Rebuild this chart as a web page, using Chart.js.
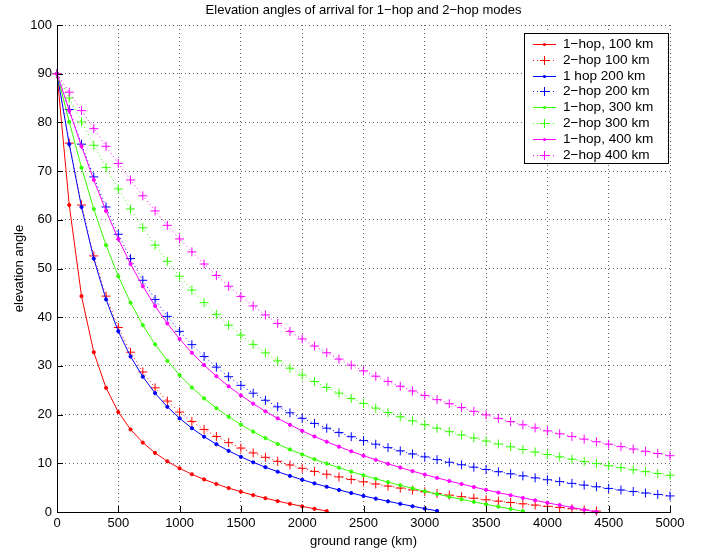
<!DOCTYPE html>
<html>
<head>
<meta charset="utf-8">
<title>Elevation angles of arrival</title>
<script src="https://cdn.jsdelivr.net/npm/chart.js@4.4.0/dist/chart.umd.min.js"></script>
<style>
    html, body { margin: 0; padding: 0; background: #fff; }
    #wrap { width: 704px; height: 549px; }
</style>
</head>
<body>
<div id="wrap"><canvas id="elevChart" width="704" height="549"></canvas></div>
<script>
const FONT = '"Liberation Sans", Arial, Helvetica, sans-serif';

// ground range in km, one sample every 100 km
const groundRange = [0, 100, 200, 300, 400, 500, 600, 700, 800, 900,
    1000, 1100, 1200, 1300, 1400, 1500, 1600, 1700, 1800, 1900,
    2000, 2100, 2200, 2300, 2400, 2500, 2600, 2700, 2800, 2900,
    3000, 3100, 3200, 3300, 3400, 3500, 3600, 3700, 3800, 3900,
    4000, 4100, 4200, 4300, 4400, 4500, 4600, 4700, 4800, 4900, 5000];

const xTicks = [0, 500, 1000, 1500, 2000, 2500, 3000, 3500, 4000, 4500, 5000];
const yTicks = [0, 10, 20, 30, 40, 50, 60, 70, 80, 90, 100];

const seriesLabels = ['1\u2212hop, 100 km', '2\u2212hop 100 km', '1 hop 200 km', '2\u2212hop 200 km',
    '1\u2212hop, 300 km', '2\u2212hop 300 km', '1\u2212hop, 400 km', '2\u2212hop 400 km'];
const seriesColors = ['#ff0000', '#ff0000', '#0000ff', '#0000ff', '#33ff00', '#33ff00', '#ff00ff', '#ff00ff'];

// elevation angle (deg)
const oneHop100 = [90, 63.03, 44.33, 32.81, 25.49, 20.52, 16.95, 14.25, 12.13, 10.41,
    8.97, 7.75, 6.69, 5.75, 4.91, 4.16, 3.46, 2.83, 2.23, 1.68, 1.16, 0.66, 0.19];
const twoHop100 = [90, 75.74, 63.03, 52.58, 44.33, 37.88, 32.81, 28.76, 25.49, 22.78,
    20.52, 18.60, 16.95, 15.51, 14.25, 13.13, 12.13, 11.23, 10.41, 9.66,
    8.97, 8.34, 7.75, 7.20, 6.69, 6.20, 5.75, 5.32, 4.91, 4.52,
    4.16, 3.80, 3.46, 3.14, 2.83, 2.52, 2.23, 1.95, 1.68, 1.42,
    1.16, 0.91, 0.66, 0.43, 0.19];
const oneHop200 = [90, 75.53, 62.63, 52.03, 43.65, 37.10, 31.93, 27.78, 24.40, 21.60,
    19.24, 17.21, 15.46, 13.92, 12.55, 11.32, 10.21, 9.20, 8.27, 7.42,
    6.62, 5.88, 5.18, 4.52, 3.90, 3.30, 2.74, 2.20, 1.68, 1.18, 0.70, 0.23];
const twoHop200 = [90, 82.65, 75.53, 68.81, 62.63, 57.03, 52.03, 47.58, 43.65, 40.18,
    37.10, 34.36, 31.93, 29.74, 27.78, 26.01, 24.40, 22.94, 21.60, 20.37,
    19.24, 18.19, 17.21, 16.31, 15.46, 14.66, 13.92, 13.21, 12.55, 11.92,
    11.32, 10.75, 10.21, 9.70, 9.20, 8.73, 8.27, 7.84, 7.42, 7.01,
    6.62, 6.24, 5.88, 5.52, 5.18, 4.84, 4.52, 4.20, 3.90, 3.60, 3.30];
const oneHop300 = [90, 80.09, 70.71, 62.22, 54.79, 48.41, 42.98, 38.36, 34.42, 31.04,
    28.12, 25.57, 23.32, 21.33, 19.55, 17.95, 16.50, 15.18, 13.96, 12.84,
    11.81, 10.84, 9.94, 9.09, 8.29, 7.53, 6.82, 6.13, 5.48, 4.86,
    4.26, 3.69, 3.13, 2.60, 2.08, 1.58, 1.09, 0.62, 0.16];
const twoHop300 = [90, 85.01, 80.09, 75.31, 70.71, 66.34, 62.22, 58.37, 54.79, 51.47,
    48.41, 45.58, 42.98, 40.58, 38.36, 36.32, 34.42, 32.67, 31.04, 29.53,
    28.12, 26.80, 25.57, 24.41, 23.32, 22.30, 21.33, 20.42, 19.55, 18.73,
    17.95, 17.21, 16.50, 15.82, 15.18, 14.56, 13.96, 13.39, 12.84, 12.32,
    11.81, 11.32, 10.84, 10.38, 9.94, 9.51, 9.09, 8.68, 8.29, 7.91, 7.53];
const oneHop400 = [90, 82.43, 75.09, 68.18, 61.82, 56.07, 50.92, 46.35, 42.31, 38.72,
    35.54, 32.70, 30.16, 27.88, 25.82, 23.94, 22.24, 20.67, 19.23, 17.90,
    16.66, 15.51, 14.43, 13.42, 12.46, 11.56, 10.71, 9.90, 9.13, 8.39,
    7.69, 7.01, 6.36, 5.74, 5.13, 4.55, 3.99, 3.44, 2.91, 2.39,
    1.89, 1.40, 0.93, 0.46, 0.01];
const twoHop400 = [90, 86.20, 82.43, 78.72, 75.09, 71.57, 68.18, 64.93, 61.82, 58.86,
    56.07, 53.42, 50.92, 48.57, 46.35, 44.27, 42.31, 40.46, 38.72, 37.08,
    35.54, 34.08, 32.70, 31.40, 30.16, 28.99, 27.88, 26.82, 25.82, 24.86,
    23.94, 23.07, 22.24, 21.44, 20.67, 19.94, 19.23, 18.55, 17.90, 17.27,
    16.66, 16.07, 15.51, 14.96, 14.43, 13.92, 13.42, 12.93, 12.46, 12.01, 11.56];

const allSeries = [oneHop100, twoHop100, oneHop200, twoHop200, oneHop300, twoHop300, oneHop400, twoHop400];

function makeDataset(values, i) {
    const twoHop = i % 2 === 1;
    const color = seriesColors[i];
    return {
        label: seriesLabels[i],
        data: values.map((v, k) => ({ x: groundRange[k], y: v })),
        borderColor: color,
        backgroundColor: color,
        borderWidth: 1,
        borderDash: twoHop ? [1, 3] : [],
        pointStyle: twoHop ? 'cross' : 'circle',
        pointRadius: twoHop ? 4.5 : 1.6,
        pointHoverRadius: twoHop ? 4.5 : 1.6,
        pointBorderWidth: 1,
        tension: 0,
        clip: false,
        order: allSeries.length - i
    };
}

// MATLAB style axes: left and bottom lines with inward ticks
const matlabAxes = {
    id: 'matlabAxes',
    afterDatasetsDraw(chart) {
        const { ctx, chartArea: a, scales: { x, y } } = chart;
        ctx.save();
        ctx.strokeStyle = '#000';
        ctx.lineWidth = 1;
        ctx.beginPath();
        ctx.moveTo(a.left + 0.5, a.top);
        ctx.lineTo(a.left + 0.5, a.bottom + 0.5);
        ctx.lineTo(a.right + 0.5, a.bottom + 0.5);
        yTicks.forEach(v => {
            const py = Math.round(y.getPixelForValue(v)) + 0.5;
            ctx.moveTo(a.left, py);
            ctx.lineTo(a.left + 6, py);
        });
        xTicks.forEach(v => {
            const px = Math.round(x.getPixelForValue(v)) + 0.5;
            ctx.moveTo(px, a.bottom + 1);
            ctx.lineTo(px, a.bottom - 6);
        });
        ctx.stroke();
        ctx.restore();
    }
};

// boxed legend in the upper right corner of the axes
const boxLegend = {
    id: 'boxLegend',
    afterDraw(chart) {
        const ctx = chart.ctx;
        const left = 524.5, top = 33.5, w = 144, h = 130;
        ctx.save();
        ctx.fillStyle = '#fff';
        ctx.fillRect(left, top, w, h);
        ctx.strokeStyle = '#000';
        ctx.lineWidth = 1;
        ctx.strokeRect(left, top, w, h);
        ctx.font = '13.6px ' + FONT;
        ctx.textBaseline = 'middle';
        chart.data.datasets.forEach((ds, i) => {
            const cy = Math.round(44 + i * 15.8) + 0.5;
            ctx.strokeStyle = ds.borderColor;
            ctx.fillStyle = ds.borderColor;
            ctx.lineWidth = 1;
            ctx.setLineDash(ds.borderDash);
            ctx.beginPath();
            ctx.moveTo(533, cy);
            ctx.lineTo(556, cy);
            ctx.stroke();
            ctx.setLineDash([]);
            if (ds.pointStyle === 'cross') {
                ctx.beginPath();
                ctx.moveTo(544.5 - 4.5, cy);
                ctx.lineTo(544.5 + 4.5, cy);
                ctx.moveTo(544.5, cy - 4.5);
                ctx.lineTo(544.5, cy + 4.5);
                ctx.stroke();
            } else {
                ctx.beginPath();
                ctx.arc(544.5, cy, 1.6, 0, Math.PI * 2);
                ctx.fill();
            }
            ctx.fillStyle = '#000';
            ctx.fillText(ds.label, 563, cy);
        });
        ctx.restore();
    }
};

new Chart(document.getElementById('elevChart'), {
    type: 'line',
    data: { datasets: allSeries.map(makeDataset) },
    plugins: [matlabAxes, boxLegend],
    options: {
        responsive: false,
        animation: false,
        devicePixelRatio: 1,
        layout: { padding: { left: 0, right: 34, top: 0, bottom: 0 } },
        plugins: {
            legend: { display: false },
            tooltip: { enabled: false },
            title: {
                display: true,
                fullSize: false,
                text: 'Elevation angles of arrival for 1\u2212hop and 2\u2212hop modes',
                color: '#000',
                font: { family: FONT, size: 13, weight: 'normal', lineHeight: 1.2 },
                padding: { top: 2.5, bottom: 6.9 }
            }
        },
        scales: {
            x: {
                type: 'linear',
                min: 0,
                max: 5000,
                afterBuildTicks: s => { s.ticks = xTicks.map(v => ({ value: v })); },
                afterFit: s => { s.height = 37; },
                ticks: {
                    color: '#000', font: { family: FONT, size: 13 }, padding: 4, maxRotation: 0,
                    callback: v => String(v)
                },
                grid: { color: 'rgba(0,0,0,0.6)', lineWidth: 1, drawTicks: false },
                border: { display: false, dash: [1, 3] },
                title: {
                    display: true, text: 'ground range (km)', color: '#000',
                    font: { family: FONT, size: 13, lineHeight: 1.2 }, padding: { top: 0, bottom: 0 }
                }
            },
            y: {
                min: 0,
                max: 100,
                afterBuildTicks: s => { s.ticks = yTicks.map(v => ({ value: v })); },
                afterFit: s => { s.width = 57; },
                ticks: { color: '#000', font: { family: FONT, size: 13 }, padding: 5, callback: v => String(v) },
                grid: { color: 'rgba(0,0,0,0.6)', lineWidth: 1, drawTicks: false },
                border: { display: false, dash: [1, 3] },
                title: {
                    display: true, text: 'elevation angle', color: '#000',
                    font: { family: FONT, size: 13, lineHeight: 1.2 }, padding: { top: 12, bottom: 0 }
                }
            }
        }
    }
});
</script>
</body>
</html>
